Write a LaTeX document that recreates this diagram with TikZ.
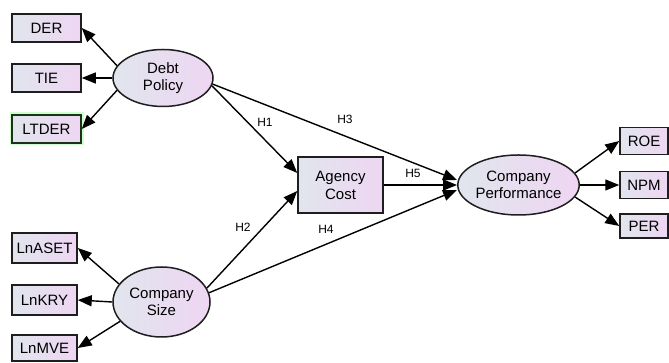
\documentclass[tikz,border=0pt]{standalone}
\usepackage{fontspec}
\setmainfont{Liberation Sans}
\usetikzlibrary{arrows.meta,shapes.geometric}
\definecolor{lftc}{HTML}{E1E5EE}
\definecolor{rgtc}{HTML}{EED6F2}
\definecolor{edgec}{HTML}{1E1E1E}
\tikzset{
  obsbox/.style={draw=edgec, line width=1.5pt, left color=lftc, right color=rgtc,
    minimum width=#1, minimum height=28pt, inner sep=0pt, align=center,
    font=\fontsize{15}{16}\selectfont},
  obsbox/.default=69pt,
  latent/.style={ellipse, draw=edgec, line width=1.5pt, left color=lftc, right color=rgtc,
    inner sep=0pt, align=center, font=\fontsize{15}{17.5}\selectfont},
  pth/.style={line width=1.4pt, -{Triangle[length=14pt,width=11pt]}},
  hlab/.style={font=\fontsize{12}{13}\selectfont, inner sep=0pt}
}
\begin{document}
\begin{tikzpicture}[x=1pt,y=1pt]
\useasboundingbox (0,0) rectangle (669,363);
% indicators left top
\node[obsbox] (der) at (46.5,335) {DER};
\node[obsbox] (tie) at (46.5,285) {TIE};
\node[obsbox, preaction={draw=green!40!white, line width=5pt, opacity=0.5}, draw=edgec!92!green] (ltder) at (46.5,234) {LTDER};
% indicators left bottom
\node[obsbox=65pt, minimum height=30pt] (lnaset) at (44.5,115) {LnASET};
\node[obsbox=65pt, minimum height=30pt] (lnkry) at (44.5,63) {LnKRY};
\node[obsbox=65pt, minimum height=26pt] (lnmve) at (44.5,15) {LnMVE};
% latent
\node[latent, minimum width=100pt, minimum height=57pt] (dp) at (163,285) {Debt\\Policy};
\node[latent, minimum width=97pt, minimum height=70pt] (cs) at (161.5,61) {Company\\Size};
\node[latent, minimum width=117pt, minimum height=60pt] (cp) at (518.5,178) {Company\\Performance};
% agency cost
\node[obsbox=85pt, minimum height=56pt, font=\fontsize{15}{18}\selectfont] (ac) at (340.5,178) {Agency\\Cost};
% right indicators
\node[obsbox=48pt, minimum height=27pt] (roe) at (644,222) {ROE};
\node[obsbox=48pt, minimum height=27pt] (npm) at (644,178) {NPM};
\node[obsbox=48pt, minimum height=24pt] (per) at (644,137) {PER};
% measurement paths
\draw[pth] (dp.165) -- (der.east);
\draw[pth] (dp.west) -- (tie.east);
\draw[pth] (dp.195) -- (ltder.east);
\draw[pth] (cs.157) -- (lnaset.east);
\draw[pth] (cs.west) -- (lnkry.east);
\draw[pth] (cs.205) -- (lnmve.east);
\draw[pth] (cp.12) -- (roe.west);
\draw[pth] (cp.east) -- (npm.west);
\draw[pth] (cp.-12) -- (per.west);
% structural paths
\draw[pth] (dp.-9) -- ([yshift=12pt]ac.west);
\draw[pth] (dp.-7) -- ([yshift=5pt]cp.west);
\draw[pth] (cs.17) -- ([yshift=-6pt]ac.west);
\draw[pth] (cs.11) -- ([yshift=-5pt]cp.west);
\draw[pth] (ac.east) -- (cp.west);
% labels
\node[hlab] (h1) at (265,241) {H1};
\node[hlab] (h3) at (345,244) {H3};
\node[hlab] (h5) at (413,190) {H5};
\node[hlab] (h2) at (243,136) {H2};
\node[hlab] (h4) at (326,134) {H4};
\end{tikzpicture}
\end{document}
